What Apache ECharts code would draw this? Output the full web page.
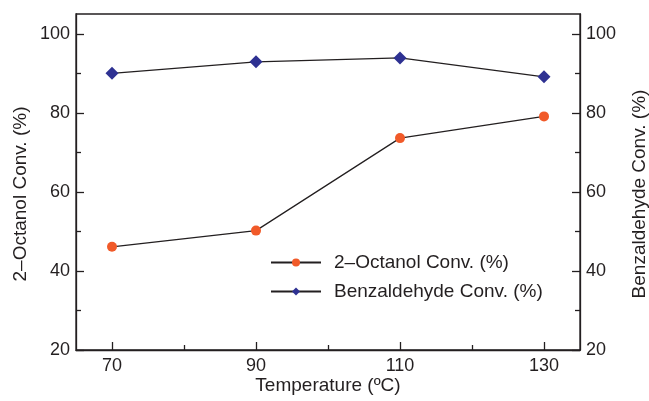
<!DOCTYPE html>
<html>
<head>
<meta charset="utf-8">
<script src="https://cdn.jsdelivr.net/npm/echarts@6/dist/echarts.min.js"></script>
<style>
  html, body { margin: 0; padding: 0; background: #fff; }
  #chart-container { width: 649px; height: 401px; }
</style>
</head>
<body>
<div id="chart-container"></div>
<script>
const temperatures = [70, 90, 110, 130];
const octanolConv = [46.1, 50.2, 73.6, 79.1];
const benzaldehydeConv = [90.0, 92.9, 93.9, 89.1];
const xMajorTicks = [70, 90, 110, 130];
const xMinorTicks = [80, 100, 120];
const yMajorTicks = [20, 40, 60, 80, 100];
const yMinorTicks = [30, 50, 70, 90];

const ink = '#231f20';
const fontFamily = '"Liberation Sans", Arial, sans-serif';

const chartContainer = document.getElementById('chart-container');
const myChart = echarts.init(chartContainer);

const baseAxis = {
    type: 'value',
    splitLine: { show: false },
    axisLine: { show: true, onZero: false, lineStyle: { color: ink, width: 1.3 } }
};

function majorX () {
    return Object.assign({}, baseAxis, {
        min: 65, max: 135, position: 'bottom',
        name: 'Temperature (\u00baC)',
        nameLocation: 'middle',
        nameGap: 26,
        nameMoveOverlap: false,
        nameTextStyle: { color: ink, fontSize: 19, fontFamily: fontFamily },
        axisTick: { inside: true, length: 8, customValues: xMajorTicks, lineStyle: { color: ink, width: 1.3 } },
        axisLabel: { customValues: xMajorTicks, margin: 7, color: ink, fontSize: 18, fontFamily: fontFamily }
    });
}

function minorX () {
    return Object.assign({}, baseAxis, {
        min: 65, max: 135, position: 'bottom',
        axisLine: { show: false },
        axisTick: { inside: true, length: 5, customValues: xMinorTicks, lineStyle: { color: ink, width: 1.3 } },
        axisLabel: { show: false }
    });
}

function majorY (side, name, gap) {
    return Object.assign({}, baseAxis, {
        min: 20, max: 105, position: side,
        name: name,
        nameLocation: 'middle',
        nameGap: gap,
        nameRotate: 90,
        nameMoveOverlap: false,
        nameTextStyle: { color: ink, fontSize: 19, fontFamily: fontFamily, padding: [0, 24, 0, 0] },
        axisTick: { inside: true, length: 8, customValues: yMajorTicks, lineStyle: { color: ink, width: 1.3 } },
        axisLabel: { customValues: yMajorTicks, margin: 6, color: ink, fontSize: 18, fontFamily: fontFamily }
    });
}

function minorY (side) {
    return Object.assign({}, baseAxis, {
        min: 20, max: 105, position: side,
        axisLine: { show: false },
        axisTick: { inside: true, length: 5, customValues: yMinorTicks, lineStyle: { color: ink, width: 1.3 } },
        axisLabel: { show: false }
    });
}

const options = {
    backgroundColor: '#ffffff',
    animation: false,
    grid: {
        left: 76, right: 69, top: 14, bottom: 51,
        outerBoundsMode: 'none',
        containLabel: false,
        show: true,
        borderColor: ink,
        borderWidth: 1.3,
        backgroundColor: 'transparent'
    },
    legend: {
        orient: 'vertical',
        left: 270,
        top: 253,
        padding: 0,
        itemWidth: 50,
        itemHeight: 10,
        itemGap: 10,
        textStyle: { color: ink, fontSize: 19, fontFamily: fontFamily, padding: [0, 0, 0, 8] },
        data: ['2\u2013Octanol Conv. (%)', 'Benzaldehyde Conv. (%)']
    },
    xAxis: [majorX(), minorX()],
    yAxis: [
        majorY('left', '2\u2013Octanol Conv. (%)', 46),
        majorY('right', 'Benzaldehyde Conv. (%)', 50),
        minorY('left'),
        minorY('right')
    ],
    series: [
        {
            name: '2\u2013Octanol Conv. (%)',
            type: 'line',
            xAxisIndex: 0,
            yAxisIndex: 0,
            symbol: 'circle',
            symbolSize: 10,
            itemStyle: { color: '#f15a29' },
            lineStyle: { color: ink, width: 1.2 },
            data: temperatures.map((t, i) => [t, octanolConv[i]])
        },
        {
            name: 'Benzaldehyde Conv. (%)',
            type: 'line',
            xAxisIndex: 0,
            yAxisIndex: 1,
            symbol: 'diamond',
            symbolSize: 13,
            itemStyle: { color: '#2e3192' },
            lineStyle: { color: ink, width: 1.2 },
            data: temperatures.map((t, i) => [t, benzaldehydeConv[i]])
        }
    ]
};

myChart.setOption(options);
</script>
</body>
</html>
